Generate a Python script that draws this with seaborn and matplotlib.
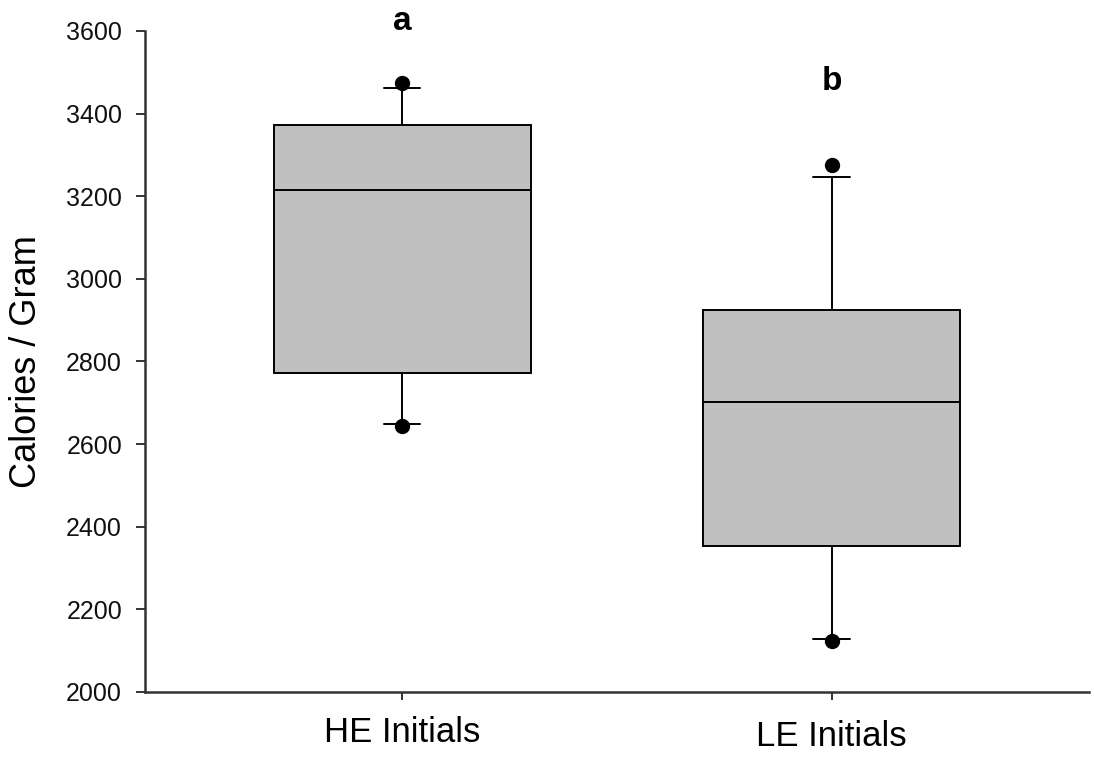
import matplotlib
matplotlib.use("Agg")
import matplotlib.pyplot as plt
import matplotlib.transforms as mtransforms
import numpy as np
import pandas as pd
import seaborn as sns

# Energy content of initial samples (calories per gram)
groups = ["HE Initials", "LE Initials"]
he_values = [2645, 2649, 2772, 3010, 3216, 3290, 3372, 3462, 3474]
le_values = [2123, 2129, 2354, 2520, 2703, 2810, 2924, 3246, 3275]
sig_letters = ["a", "b"]
letter_y = [3622, 3478]
y_ticks = [2000, 2200, 2400, 2600, 2800, 3000, 3200, 3400, 3600]

df = pd.DataFrame({
    "group": [groups[0]] * len(he_values) + [groups[1]] * len(le_values),
    "cal": he_values + le_values,
})

sns.set_style("ticks")
plt.rcParams["font.family"] = ["Liberation Sans", "DejaVu Sans"]
plt.rcParams["text.color"] = "black"
plt.rcParams["axes.labelcolor"] = "black"

fig = plt.figure(figsize=(10.94, 7.61), dpi=100)
ax = fig.add_axes([0.1325, 0.0907, 0.8629, 0.8686])

sns.boxplot(
    data=df, x="group", y="cal", order=groups, ax=ax,
    whis=(10, 90), width=0.6, color="#c0c0c0", saturation=1,
    linecolor="black", linewidth=1.4,
    flierprops=dict(marker="o", markerfacecolor="black",
                    markeredgecolor="black", markersize=10),
    capwidths=0.084,
)

ax.set_xlim(-0.6, 1.6)
ax.set_ylim(2000, 3600)
ax.set_yticks(y_ticks)
ax.set_xlabel("")
ax.set_ylabel("Calories / Gram", fontsize=26, labelpad=16)

for side in ["top", "right"]:
    ax.spines[side].set_visible(False)
for side in ["left", "bottom"]:
    ax.spines[side].set_linewidth(1.8)
    ax.spines[side].set_color("#333333")

ax.tick_params(axis="y", direction="out", length=6.5, width=1.4,
               color="#333333", labelsize=18, pad=10, labelcolor="#111111")
ax.tick_params(axis="x", direction="out", length=6, width=1.4,
               color="#333333", labelsize=25, pad=11, labelcolor="black")

# slightly lower second category label
xt = ax.get_xticklabels()
xt[1].set_transform(xt[1].get_transform() +
                    mtransforms.ScaledTranslation(0, -4 / 100, fig.dpi_scale_trans))

for i, (lab, yv) in enumerate(zip(sig_letters, letter_y)):
    ax.text(i, yv, lab, ha="center", va="center", fontsize=24,
            fontweight="bold", color="black", clip_on=False)

fig.savefig("out.png", dpi=100)
